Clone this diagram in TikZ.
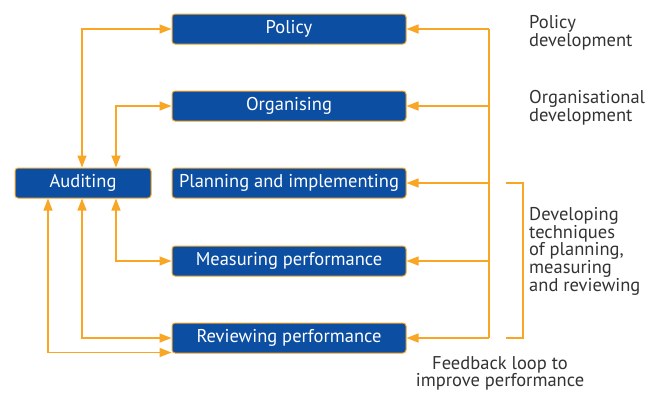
\documentclass[tikz,border=0pt]{standalone}
\usepackage{fontspec}
\setmainfont{PT Sans}
\usetikzlibrary{arrows.meta}
\definecolor{boxblue}{HTML}{0B4EA2}
\definecolor{lineor}{HTML}{F8A623}
\definecolor{txtgrey}{HTML}{333333}
\begin{document}
\begin{tikzpicture}[x=1pt,y=-1pt,
  box/.style={draw=lineor, line width=1pt, fill=boxblue, rounded corners=3pt,
    text=white, font=\fontsize{18.5}{20}\selectfont, minimum height=30pt,
    inner sep=0pt},
  wide/.style={box, minimum width=234pt},
  conn/.style={draw=lineor, line width=1.4pt, {Triangle[length=12pt,width=9pt]}-{Triangle[length=12pt,width=9pt]}},
  feed/.style={draw=lineor, line width=1.4pt, -{Triangle[length=12pt,width=9pt]}},
  plainline/.style={draw=lineor, line width=1.4pt},
  lab/.style={text=txtgrey, font=\fontsize{18.5}{17.8}\selectfont, align=left, inner sep=0pt, anchor=north west}
]
\useasboundingbox (0,0) rectangle (656,392);
\node[wide] (policy) at (289,29) {Policy};
\node[wide] (organ) at (289,106) {Organising};
\node[wide] (plan) at (289,183) {Planning and implementing};
\node[wide] (meas) at (289,261) {Measuring performance};
\node[wide] (review) at (289,338) {Reviewing performance};
\node[box, minimum width=136pt] (audit) at (83,183) {Auditing};

\coordinate (xa) at (82,0);
\coordinate (xb) at (116,0);
\coordinate (xc) at (48,0);
\coordinate (xr) at (489,0);
\coordinate (xbl) at (506,0);
\coordinate (xbr) at (523,0);

\draw[conn] (audit.north -| xa) |- (policy.west);
\draw[conn] (audit.north -| xb) |- (organ.west);
\draw[conn] (audit.south -| xb) |- (meas.west);
\draw[conn] (audit.south -| xa) |- (review.west);
\draw[conn] (audit.south -| xc) |- ([yshift=1pt]review.south west);

\draw[plainline] (policy.east -| xr) -- (review.east -| xr);
\draw[feed] (policy.east -| xr) -- (policy.east);
\draw[feed] (organ.east -| xr) -- (organ.east);
\draw[feed] (plan.east -| xr) -- (plan.east);
\draw[feed] (meas.east -| xr) -- (meas.east);
\draw[feed] (review.east -| xr) -- (review.east);

\draw[plainline] (plan.east -| xbl) -- (plan.east -| xbr) -- (review.east -| xbr) -- (review.east -| xbl);

\node[lab] (l1) at (529,15) {Policy\\development};
\node[lab] (l2) at (529,90) {Organisational\\development};
\node[lab] (l3) at (529,207) {Developing\\techniques\\of planning,\\measuring\\and reviewing};
\node[lab, anchor=north, align=center] (l4) at (500,356) {Feedback loop to\\improve performance};
\end{tikzpicture}
\end{document}
